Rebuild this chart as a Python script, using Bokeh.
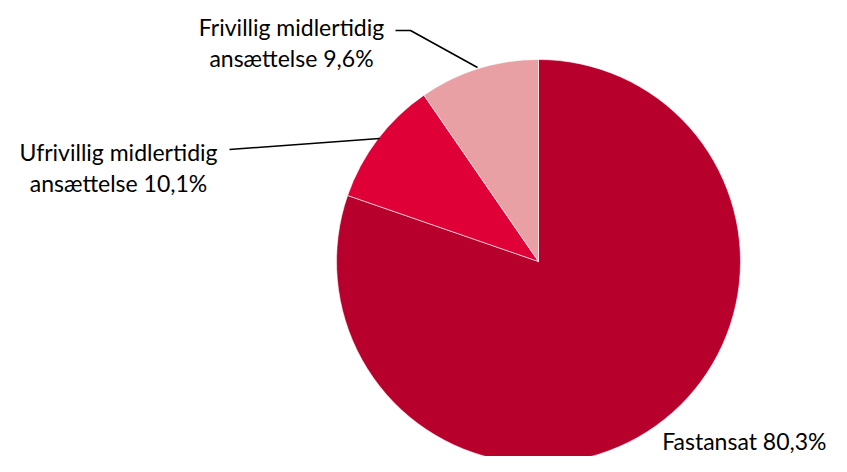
import math
from bokeh.plotting import figure
from bokeh.models import Range1d, ColumnDataSource
from bokeh.core.properties import value
from bokeh.embed import file_html
from bokeh.resources import INLINE

# Data
categories = ["Fastansat", "Ufrivillig midlertidig ansættelse", "Frivillig midlertidig ansættelse"]
shares = [80.3, 10.1, 9.6]
label_lines = [
    ["Fastansat 80,3%"],
    ["Ufrivillig midlertidig", "ansættelse 10,1%"],
    ["Frivillig midlertidig", "ansættelse 9,6%"],
]
colors = ["#B8002C", "#DE0036", "#E8A0A5"]

W, H = 831, 456
DY = 6  # small upward shift so the chart fits the frame


def sy(y):
    # picture pixel (from top) -> data y (upward)
    return H - (y - DY)


p = figure(width=W, height=H, output_backend="svg", toolbar_location=None,
           x_range=Range1d(0, W), y_range=Range1d(0, H),
           min_border=0, outline_line_color=None)
p.axis.visible = False
p.grid.visible = False
p.background_fill_color = "white"
p.border_fill_color = "white"

cx, cy, r = 538, sy(267), 202
total = sum(shares)
cum = [0.0]
for s in shares:
    cum.append(cum[-1] + s / total)
bounds = [math.pi / 2 - 2 * math.pi * c for c in cum]
starts = [bounds[i + 1] for i in range(len(shares))]
ends = [bounds[i] for i in range(len(shares))]

src = ColumnDataSource(dict(x=[cx] * 3, y=[cy] * 3, start=starts, end=ends,
                            color=colors, cat=categories))
p.wedge(x="x", y="y", radius=r, start_angle="start", end_angle="end",
        fill_color="color", line_color="white", line_width=0.6, source=src)

font = value("Lato")
fs = "23px"

# leader lines
p.line([395, 410, 477], [sy(36), sy(36), sy(73)], line_color="black", line_width=1.6)
p.line([229, 379], [sy(155), sy(144)], line_color="black", line_width=1.6)

# labels
p.text(x=[291, 291], y=[sy(32), sy(63)], text=label_lines[2], text_font=font,
       text_font_size=fs, text_align="center", text_baseline="alphabetic", text_color="#000000")
p.text(x=[118, 118], y=[sy(157), sy(188)], text=label_lines[1], text_font=font,
       text_font_size=fs, text_align="center", text_baseline="alphabetic", text_color="#000000")
p.text(x=[826], y=[sy(446)], text=label_lines[0], text_font=font,
       text_font_size=fs, text_align="right", text_baseline="alphabetic", text_color="#000000")

open("out.html", "w").write(file_html(p, INLINE))
